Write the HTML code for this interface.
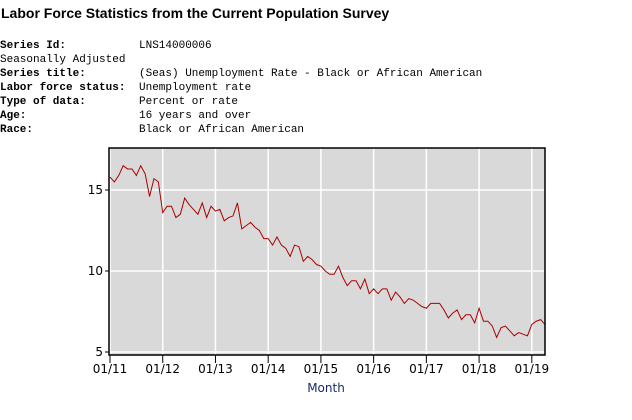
<!DOCTYPE html>
<html><head><meta charset="utf-8"><style>
body{margin:0;background:#fff;width:632px;height:420px;overflow:hidden;position:relative;font-family:"DejaVu Sans","Liberation Sans",sans-serif}
#title{position:absolute;left:1px;top:5px;font:bold 14px "Liberation Sans",sans-serif;color:#000}
.row{position:absolute;left:0;font:11px "Liberation Mono",monospace;color:#000;white-space:pre}
.row b{display:inline-block;width:139px}
</style></head><body>
<div id="title">Labor Force Statistics from the Current Population Survey</div>
<div class="row" style="top:40px"><b>Series Id:</b>LNS14000006</div>
<div class="row" style="top:54px">Seasonally Adjusted</div>
<div class="row" style="top:68px"><b>Series title:</b>(Seas) Unemployment Rate - Black or African American</div>
<div class="row" style="top:82px"><b>Labor force status:</b>Unemployment rate</div>
<div class="row" style="top:96px"><b>Type of data:</b>Percent or rate</div>
<div class="row" style="top:110px"><b>Age:</b>16 years and over</div>
<div class="row" style="top:124px"><b>Race:</b>Black or African American</div>
<svg id="chart" width="632" height="420" style="position:absolute;left:0;top:0"></svg>
<script>
const values=[15.8,15.5,15.9,16.5,16.3,16.3,15.9,16.5,16.0,14.6,15.7,15.5,
13.6,14.0,14.0,13.3,13.5,14.5,14.1,13.8,13.5,14.2,13.3,14.0,
13.7,13.8,13.1,13.3,13.4,14.2,12.6,12.8,13.0,12.7,12.5,12.0,
12.0,11.6,12.1,11.6,11.4,10.9,11.6,11.5,10.6,10.9,10.7,10.4,
10.3,10.0,9.8,9.8,10.3,9.6,9.1,9.4,9.4,8.9,9.5,8.6,
8.9,8.6,8.9,8.9,8.2,8.7,8.4,8.0,8.3,8.2,8.0,7.8,
7.7,8.0,8.0,8.0,7.6,7.1,7.4,7.6,7.0,7.3,7.3,6.8,
7.7,6.9,6.9,6.6,5.9,6.5,6.6,6.3,6.0,6.2,6.1,6.0,
6.7,6.9,7.0,6.7];
const xTickLabels=["01/11","01/12","01/13","01/14","01/15","01/16","01/17","01/18","01/19"];
const yTicks=[5,10,15];
const L=109,R=545,T=148,B=355;
const xs=i=>L+1+i*(R-L-1)/(values.length-1);
const ys=v=>271-(v-10)*16.2;
const svg=document.getElementById('chart');const NS='http://www.w3.org/2000/svg';
function mk(t,a,p){const e=document.createElementNS(NS,t);for(const k in a)e.setAttribute(k,a[k]);(p||svg).appendChild(e);return e;}
const bg=mk('rect',{x:L,y:T,width:R-L,height:B-T,fill:'#d9d9d9'});


xTickLabels.forEach((lab,k)=>{const x=xs(k*12);
const g=mk('line',{x1:x,x2:x,y1:T,y2:B,stroke:'#fff','stroke-width':1.5});


mk('line',{x1:x,x2:x,y1:B,y2:B+8,stroke:'#000'});
const t=mk('text',{x:x,y:B+18,'text-anchor':'middle','font-size':'12','font-family':'DejaVu Sans, sans-serif',fill:'#000'});t.textContent=lab;

});
yTicks.forEach(v=>{const y=ys(v);
const g=mk('line',{x1:L,x2:R,y1:y,y2:y,stroke:'#fff','stroke-width':1.5});


mk('line',{x1:L-4,x2:L,y1:y,y2:y,stroke:'#000'});
const t=mk('text',{x:L-6,y:y+4,'text-anchor':'end','font-size':'12','font-family':'DejaVu Sans, sans-serif',fill:'#000'});t.textContent=v;

});
const pl=mk('polyline',{points:values.map((v,i)=>xs(i)+','+ys(v)).join(' '),fill:'none',stroke:'#aa0000','stroke-width':1});


const fr=mk('rect',{x:L,y:T,width:R-L,height:B-T,fill:'none',stroke:'#000','stroke-width':1.5});


const xl=mk('text',{x:326,y:392,'text-anchor':'middle','font-size':'12','font-family':'DejaVu Sans, sans-serif',fill:'#1a2a6c'});xl.textContent='Month';


</script>
</body></html>
